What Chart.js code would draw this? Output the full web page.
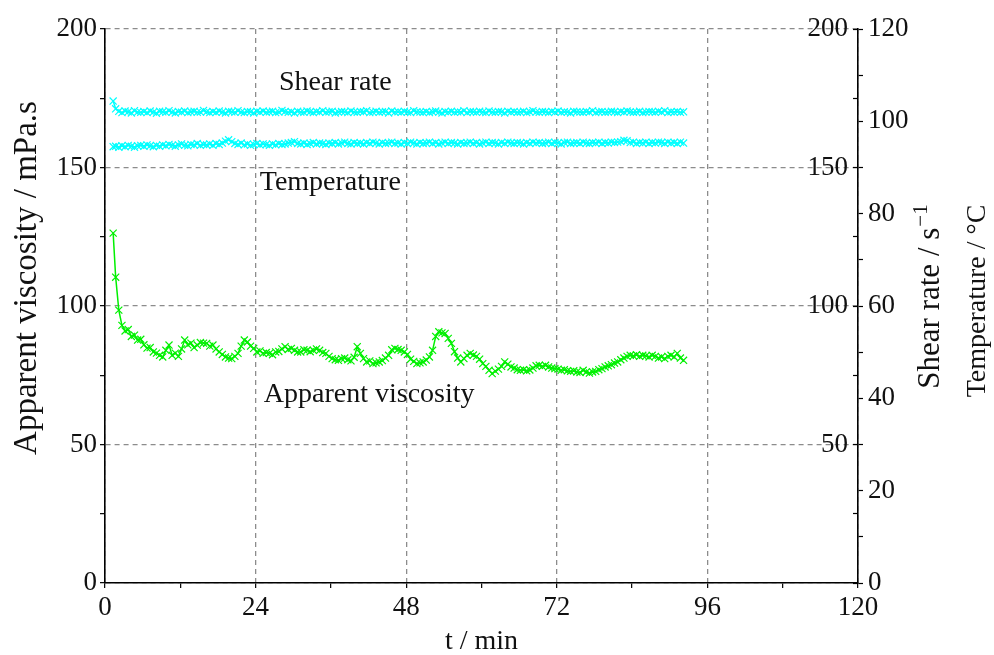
<!DOCTYPE html>
<html>
<head>
<meta charset="utf-8">
<title>Apparent viscosity, shear rate and temperature vs time</title>
<script src="https://cdn.jsdelivr.net/npm/chart.js@4.4.1/dist/chart.umd.min.js"></script>
<style>
  html, body { margin: 0; padding: 0; background: #fff; }
  #wrap { width: 994px; height: 655px; position: relative; }
</style>
</head>
<body>
<div id="wrap"><canvas id="rheoChart"></canvas></div>
<script>
// sample times (min), one row per 5 minutes of logging
const timeMin = [
    1.3, 1.7, 2.2, 2.7, 3.2, 3.7, 4.2, 4.7, 5.2, 5.7,
    6.2, 6.7, 7.2, 7.7, 8.2, 8.7, 9.2, 9.7, 10.2, 10.7,
    11.2, 11.7, 12.2, 12.7, 13.2, 13.7, 14.2, 14.7, 15.2, 15.7,
    16.2, 16.7, 17.2, 17.7, 18.2, 18.7, 19.2, 19.7, 20.2, 20.7,
    21.2, 21.7, 22.2, 22.7, 23.2, 23.7, 24.2, 24.7, 25.2, 25.7,
    26.2, 26.7, 27.2, 27.7, 28.2, 28.7, 29.2, 29.7, 30.2, 30.7,
    31.2, 31.7, 32.2, 32.7, 33.2, 33.7, 34.2, 34.7, 35.2, 35.7,
    36.2, 36.7, 37.2, 37.7, 38.2, 38.7, 39.2, 39.7, 40.2, 40.7,
    41.2, 41.7, 42.2, 42.7, 43.2, 43.7, 44.2, 44.7, 45.2, 45.7,
    46.2, 46.7, 47.2, 47.7, 48.2, 48.7, 49.2, 49.7, 50.2, 50.7,
    51.2, 51.7, 52.2, 52.7, 53.2, 53.7, 54.2, 54.7, 55.2, 55.7,
    56.2, 56.7, 57.2, 57.7, 58.2, 58.7, 59.2, 59.7, 60.2, 60.7,
    61.2, 61.7, 62.2, 62.7, 63.2, 63.7, 64.2, 64.7, 65.2, 65.7,
    66.2, 66.7, 67.2, 67.7, 68.2, 68.7, 69.2, 69.7, 70.2, 70.7,
    71.2, 71.7, 72.2, 72.7, 73.2, 73.7, 74.2, 74.7, 75.2, 75.7,
    76.2, 76.7, 77.2, 77.7, 78.2, 78.7, 79.2, 79.7, 80.2, 80.7,
    81.2, 81.7, 82.2, 82.7, 83.2, 83.7, 84.2, 84.7, 85.2, 85.7,
    86.2, 86.7, 87.2, 87.7, 88.2, 88.7, 89.2, 89.7, 90.2, 90.7,
    91.2, 91.7, 92.2
];

// apparent viscosity, mPa.s (left axis)
const viscosity = [
    126.3, 110.4, 98.5, 93.0, 91.0, 91.5, 89.0, 89.5, 87.7, 88.0,
    86.0, 84.8, 85.0, 83.4, 83.0, 82.2, 81.6, 84.0, 85.9, 82.2,
    83.0, 81.8, 84.5, 87.7, 86.0, 86.6, 85.0, 85.9, 86.8, 86.6,
    86.5, 85.5, 85.9, 84.5, 83.4, 82.5, 81.6, 81.2, 81.0, 81.8,
    82.9, 85.5, 87.7, 87.0, 85.5, 84.7, 83.4, 83.8, 82.9, 83.2,
    82.9, 82.4, 83.4, 83.6, 84.5, 85.3, 84.3, 84.7, 84.0, 83.4,
    83.4, 84.2, 84.0, 83.5, 84.0, 84.5, 84.0, 83.2, 82.9, 81.8,
    81.0, 80.6, 80.4, 81.0, 81.2, 80.6, 80.2, 81.5, 85.3, 82.9,
    81.0, 79.8, 80.2, 79.2, 79.5, 79.8, 80.3, 81.2, 82.2, 84.2,
    84.7, 84.3, 84.0, 83.4, 82.5, 80.8, 80.0, 79.2, 79.5, 79.8,
    80.5, 81.6, 84.0, 89.0, 90.7, 90.3, 90.1, 88.3, 86.5, 83.5,
    81.2, 79.8, 81.0, 82.2, 82.9, 82.3, 81.8, 80.8, 79.2, 78.2,
    76.8, 75.6, 76.5, 77.2, 78.2, 79.8, 79.0, 78.0, 77.6, 77.0,
    76.8, 77.0, 76.6, 76.9, 77.6, 78.4, 78.6, 78.2, 78.6, 78.0,
    77.6, 77.4, 77.2, 76.8, 77.0, 76.6, 76.4, 76.6, 76.2, 76.0,
    76.8, 76.2, 75.8, 76.2, 76.4, 77.0, 77.4, 78.0, 78.4, 78.8,
    79.4, 79.8, 80.6, 81.2, 81.8, 82.2, 82.0, 82.4, 81.8, 82.2,
    82.0, 81.6, 82.2, 81.8, 81.2, 81.6, 81.0, 81.8, 82.2, 81.6,
    82.9, 81.2, 80.4
];

// shear rate, 1/s (inner right axis)
const shearRate = [
    174.0, 171.2, 170.3, 169.8, 170.4, 170.1, 169.7, 170.5, 170.0, 169.9,
    170.2, 169.8, 170.4, 170.0, 169.6, 170.3, 170.1, 169.9, 170.5, 170.0,
    169.7, 170.2, 170.0, 170.4, 169.8, 170.1, 170.3, 169.9, 170.0, 170.6,
    170.1, 169.8, 170.2, 169.9, 170.4, 170.0, 169.7, 170.3, 170.1, 169.9,
    170.5, 170.0, 169.8, 170.2, 170.1, 169.7, 170.3, 170.0, 170.4, 169.9,
    170.1, 170.3, 169.8, 170.0, 170.6, 170.2, 169.9, 170.1, 169.7, 170.3,
    170.0, 169.9, 170.4, 170.1, 169.8, 170.2, 170.0, 170.5, 169.9, 170.1,
    170.3, 169.7, 170.0, 170.2, 170.1, 169.8, 170.4, 170.0, 169.9, 170.2,
    170.1, 170.5, 169.8, 170.0, 170.3, 169.9, 170.1, 170.2, 169.7, 170.4,
    170.0, 170.1, 169.9, 170.3, 170.0, 169.8, 170.5, 170.1, 170.0, 169.9,
    170.2, 169.8, 170.1, 170.4, 170.0, 169.7, 170.2, 170.0, 170.3, 169.9,
    170.1, 170.0, 170.5, 169.8, 170.2, 170.1, 169.9, 170.3, 170.0, 169.8,
    170.4, 170.0, 169.9, 170.2, 170.1, 169.7, 170.3, 170.0, 170.2, 169.9,
    170.0, 170.3, 169.8, 170.1, 170.5, 170.0, 169.9, 170.2, 170.1, 169.8,
    170.2, 170.0, 170.4, 169.9, 170.1, 170.0, 169.7, 170.3, 170.1, 170.0,
    169.9, 170.2, 170.0, 170.5, 169.8, 170.1, 170.2, 169.9, 170.0, 170.3,
    170.1, 169.8, 170.2, 170.0, 170.4, 170.1, 169.9, 170.0, 170.3, 169.8,
    170.0, 170.2, 170.1, 169.9, 170.3, 170.0, 170.5, 169.8, 170.1, 170.0,
    170.2, 169.9, 170.1
];

// temperature, degC (outer right axis)
const temperature = [
    94.5, 94.6, 94.4, 94.7, 94.5, 94.8, 94.6, 94.4, 94.7, 94.8,
    94.6, 94.9, 94.7, 94.5, 94.8, 94.6, 94.9, 94.7, 95.0, 94.8,
    94.6, 94.9, 95.1, 94.8, 94.7, 95.0, 94.9, 95.2, 94.8, 95.0,
    94.9, 95.1, 94.8, 95.2, 95.0, 95.3, 95.7, 96.0, 95.6, 95.2,
    95.0, 95.3, 94.9, 95.1, 94.8, 95.0, 95.2, 94.9, 95.1, 95.0,
    94.8, 95.1, 94.9, 95.2, 95.0, 95.1, 95.3, 95.4, 95.6, 95.2,
    95.1, 95.3, 95.0, 95.2, 95.4, 95.1, 95.3, 95.2, 95.0, 95.3,
    95.2, 95.4, 95.1, 95.3, 95.5, 95.2, 95.1, 95.4, 95.2, 95.3,
    95.1, 95.4, 95.2, 95.5, 95.3, 95.1, 95.4, 95.2, 95.3, 95.5,
    95.2, 95.3, 95.1, 95.4, 95.2, 95.5, 95.3, 95.1, 95.4, 95.2,
    95.3, 95.5, 95.2, 95.4, 95.1, 95.3, 95.5, 95.2, 95.4, 95.3,
    95.1, 95.4, 95.2, 95.3, 95.5, 95.2, 95.4, 95.1, 95.3, 95.5,
    95.2, 95.4, 95.3, 95.1, 95.4, 95.2, 95.5, 95.3, 95.2, 95.4,
    95.3, 95.1, 95.4, 95.2, 95.5, 95.3, 95.4, 95.2, 95.3, 95.5,
    95.2, 95.4, 95.3, 95.1, 95.4, 95.5, 95.2, 95.3, 95.4, 95.2,
    95.5, 95.3, 95.2, 95.4, 95.3, 95.5, 95.2, 95.4, 95.3, 95.5,
    95.4, 95.5, 95.6, 95.9, 95.8, 95.4, 95.5, 95.2, 95.4, 95.3,
    95.5, 95.2, 95.4, 95.3, 95.5, 95.4, 95.2, 95.5, 95.3, 95.4,
    95.2, 95.5, 95.3
];

// in-plot curve labels, anchored in (t, left-axis) units
const curveLabels = [
    { text: 'Shear rate', t: 36.7, v: 180.5 },
    { text: 'Temperature', t: 35.9, v: 144.4 },
    { text: 'Apparent viscosity', t: 42.1, v: 67.9 },
];

const SERIF = '"Liberation Serif", "Times New Roman", serif';
const GRID = '#8c8c8c';
const CYAN = '#00ffff';
const GREEN = '#00f000';
const INK = '#111';

const toPoints = (values) => timeMin.map((t, i) => ({ x: t, y: values[i] }));

// rotated title reading bottom-to-top, with an optional raised suffix
function drawVerticalTitle(ctx, x, y, size, text, sup) {
    ctx.save();
    ctx.translate(x, y);
    ctx.rotate(-Math.PI / 2);
    ctx.font = `${size}px ${SERIF}`;
    const mainW = ctx.measureText(text).width;
    let supW = 0;
    const supSize = Math.round(size * 0.68);
    if (sup) {
        ctx.font = `${supSize}px ${SERIF}`;
        supW = ctx.measureText(sup).width;
    }
    const x0 = -(mainW + supW) / 2;
    ctx.textAlign = 'left';
    ctx.textBaseline = 'middle';
    ctx.font = `${size}px ${SERIF}`;
    ctx.fillText(text, x0, 0);
    if (sup) {
        ctx.font = `${supSize}px ${SERIF}`;
        ctx.fillText(sup, x0 + mainW + 1, -size * 0.32);
    }
    ctx.restore();
}

// in-plot labels and the three axis titles drawn on the canvas
const textLayer = {
    id: 'textLayer',
    afterDraw(chart) {
        const { ctx, chartArea, scales } = chart;
        ctx.save();
        ctx.fillStyle = INK;
        ctx.font = `28px ${SERIF}`;
        ctx.textAlign = 'center';
        ctx.textBaseline = 'middle';
        curveLabels.forEach((lab) => {
            ctx.fillText(lab.text, scales.x.getPixelForValue(lab.t), scales.y.getPixelForValue(lab.v));
        });

        drawVerticalTitle(ctx, chartArea.left - 78, chartArea.top + 249, 33, 'Apparent viscosity / mPa.s');
        drawVerticalTitle(ctx, chartArea.right + 73, chartArea.top + 268, 31, 'Shear rate / s', '\u22121');
        drawVerticalTitle(ctx, chartArea.right + 120, chartArea.top + 272, 28, 'Temperature / \u00B0C');
        ctx.restore();
    },
};

const tickFont = { family: SERIF, size: 27 };

const seriesStyle = (color, axis) => ({
    yAxisID: axis,
    borderColor: color,
    backgroundColor: color,
    borderWidth: 1.5,
    pointStyle: 'crossRot',
    pointRadius: 5,
    pointBorderWidth: 1.2,
});

new Chart(document.getElementById('rheoChart'), {
    type: 'line',
    data: {
        datasets: [
            { label: 'Shear rate', data: toPoints(shearRate), ...seriesStyle(CYAN, 'yShear') },
            { label: 'Temperature', data: toPoints(temperature), ...seriesStyle(CYAN, 'yTemp') },
            { label: 'Apparent viscosity', data: toPoints(viscosity), ...seriesStyle(GREEN, 'y') },
        ],
    },
    options: {
        responsive: true,
        maintainAspectRatio: false,
        animation: false,
        layout: { padding: { top: 29, left: 0, right: 0, bottom: 0 } },
        plugins: { legend: { display: false }, tooltip: { enabled: false } },
        scales: {
            x: {
                type: 'linear',
                min: 0,
                max: 120,
                afterFit: (s) => { s.height = 72; },
                ticks: {
                    stepSize: 12,
                    autoSkip: false,
                    maxRotation: 0,
                    padding: 4,
                    color: INK,
                    font: tickFont,
                    callback: (v) => (v % 24 === 0 ? v : ''),
                },
                grid: {
                    color: (c) => (c.tick && c.tick.value % 24 === 0 ? GRID : 'transparent'),
                    lineWidth: 1.3,
                    tickColor: '#000',
                    tickLength: 5,
                    tickWidth: 1.2,
                },
                border: { color: '#000', width: 1.6, dash: [5, 4] },
                title: {
                    display: true,
                    text: 't / min',
                    color: INK,
                    font: { family: SERIF, size: 28 },
                    padding: { top: 0, bottom: -3 },
                },
            },
            y: {
                position: 'left',
                min: 0,
                max: 200,
                afterFit: (s) => { s.width = 105; },
                ticks: {
                    stepSize: 25,
                    autoSkip: false,
                    padding: 3,
                    color: INK,
                    font: tickFont,
                    callback: (v) => (v % 50 === 0 ? v : ''),
                },
                grid: {
                    color: (c) => (c.tick && c.tick.value % 50 === 0 ? GRID : 'transparent'),
                    lineWidth: 1.3,
                    tickColor: '#000',
                    tickLength: 5,
                    tickWidth: 1.2,
                },
                border: { color: '#000', width: 1.6, dash: [5, 4] },
            },
            yShear: {
                position: 'right',
                weight: 0,
                min: 0,
                max: 200,
                afterFit: (s) => { s.width = 0; },
                ticks: {
                    stepSize: 25,
                    autoSkip: false,
                    mirror: true,
                    padding: -10,
                    color: INK,
                    font: tickFont,
                    callback: (v) => (v % 50 === 0 && v > 0 ? v : ''),
                },
                grid: {
                    drawOnChartArea: false,
                    tickColor: '#000',
                    tickLength: -5,
                    tickWidth: 1.2,
                },
                border: { display: false },
            },
            yTemp: {
                position: 'right',
                weight: 1,
                min: 0,
                max: 120,
                afterFit: (s) => { s.width = 136; },
                ticks: {
                    stepSize: 10,
                    autoSkip: false,
                    padding: 5,
                    color: INK,
                    font: tickFont,
                    callback: (v) => (v % 20 === 0 ? v : ''),
                },
                grid: {
                    drawOnChartArea: false,
                    tickColor: '#000',
                    tickLength: 5,
                    tickWidth: 1.2,
                },
                border: { color: '#000', width: 1.6 },
            },
        },
    },
    plugins: [textLayer],
});
</script>
</body>
</html>
